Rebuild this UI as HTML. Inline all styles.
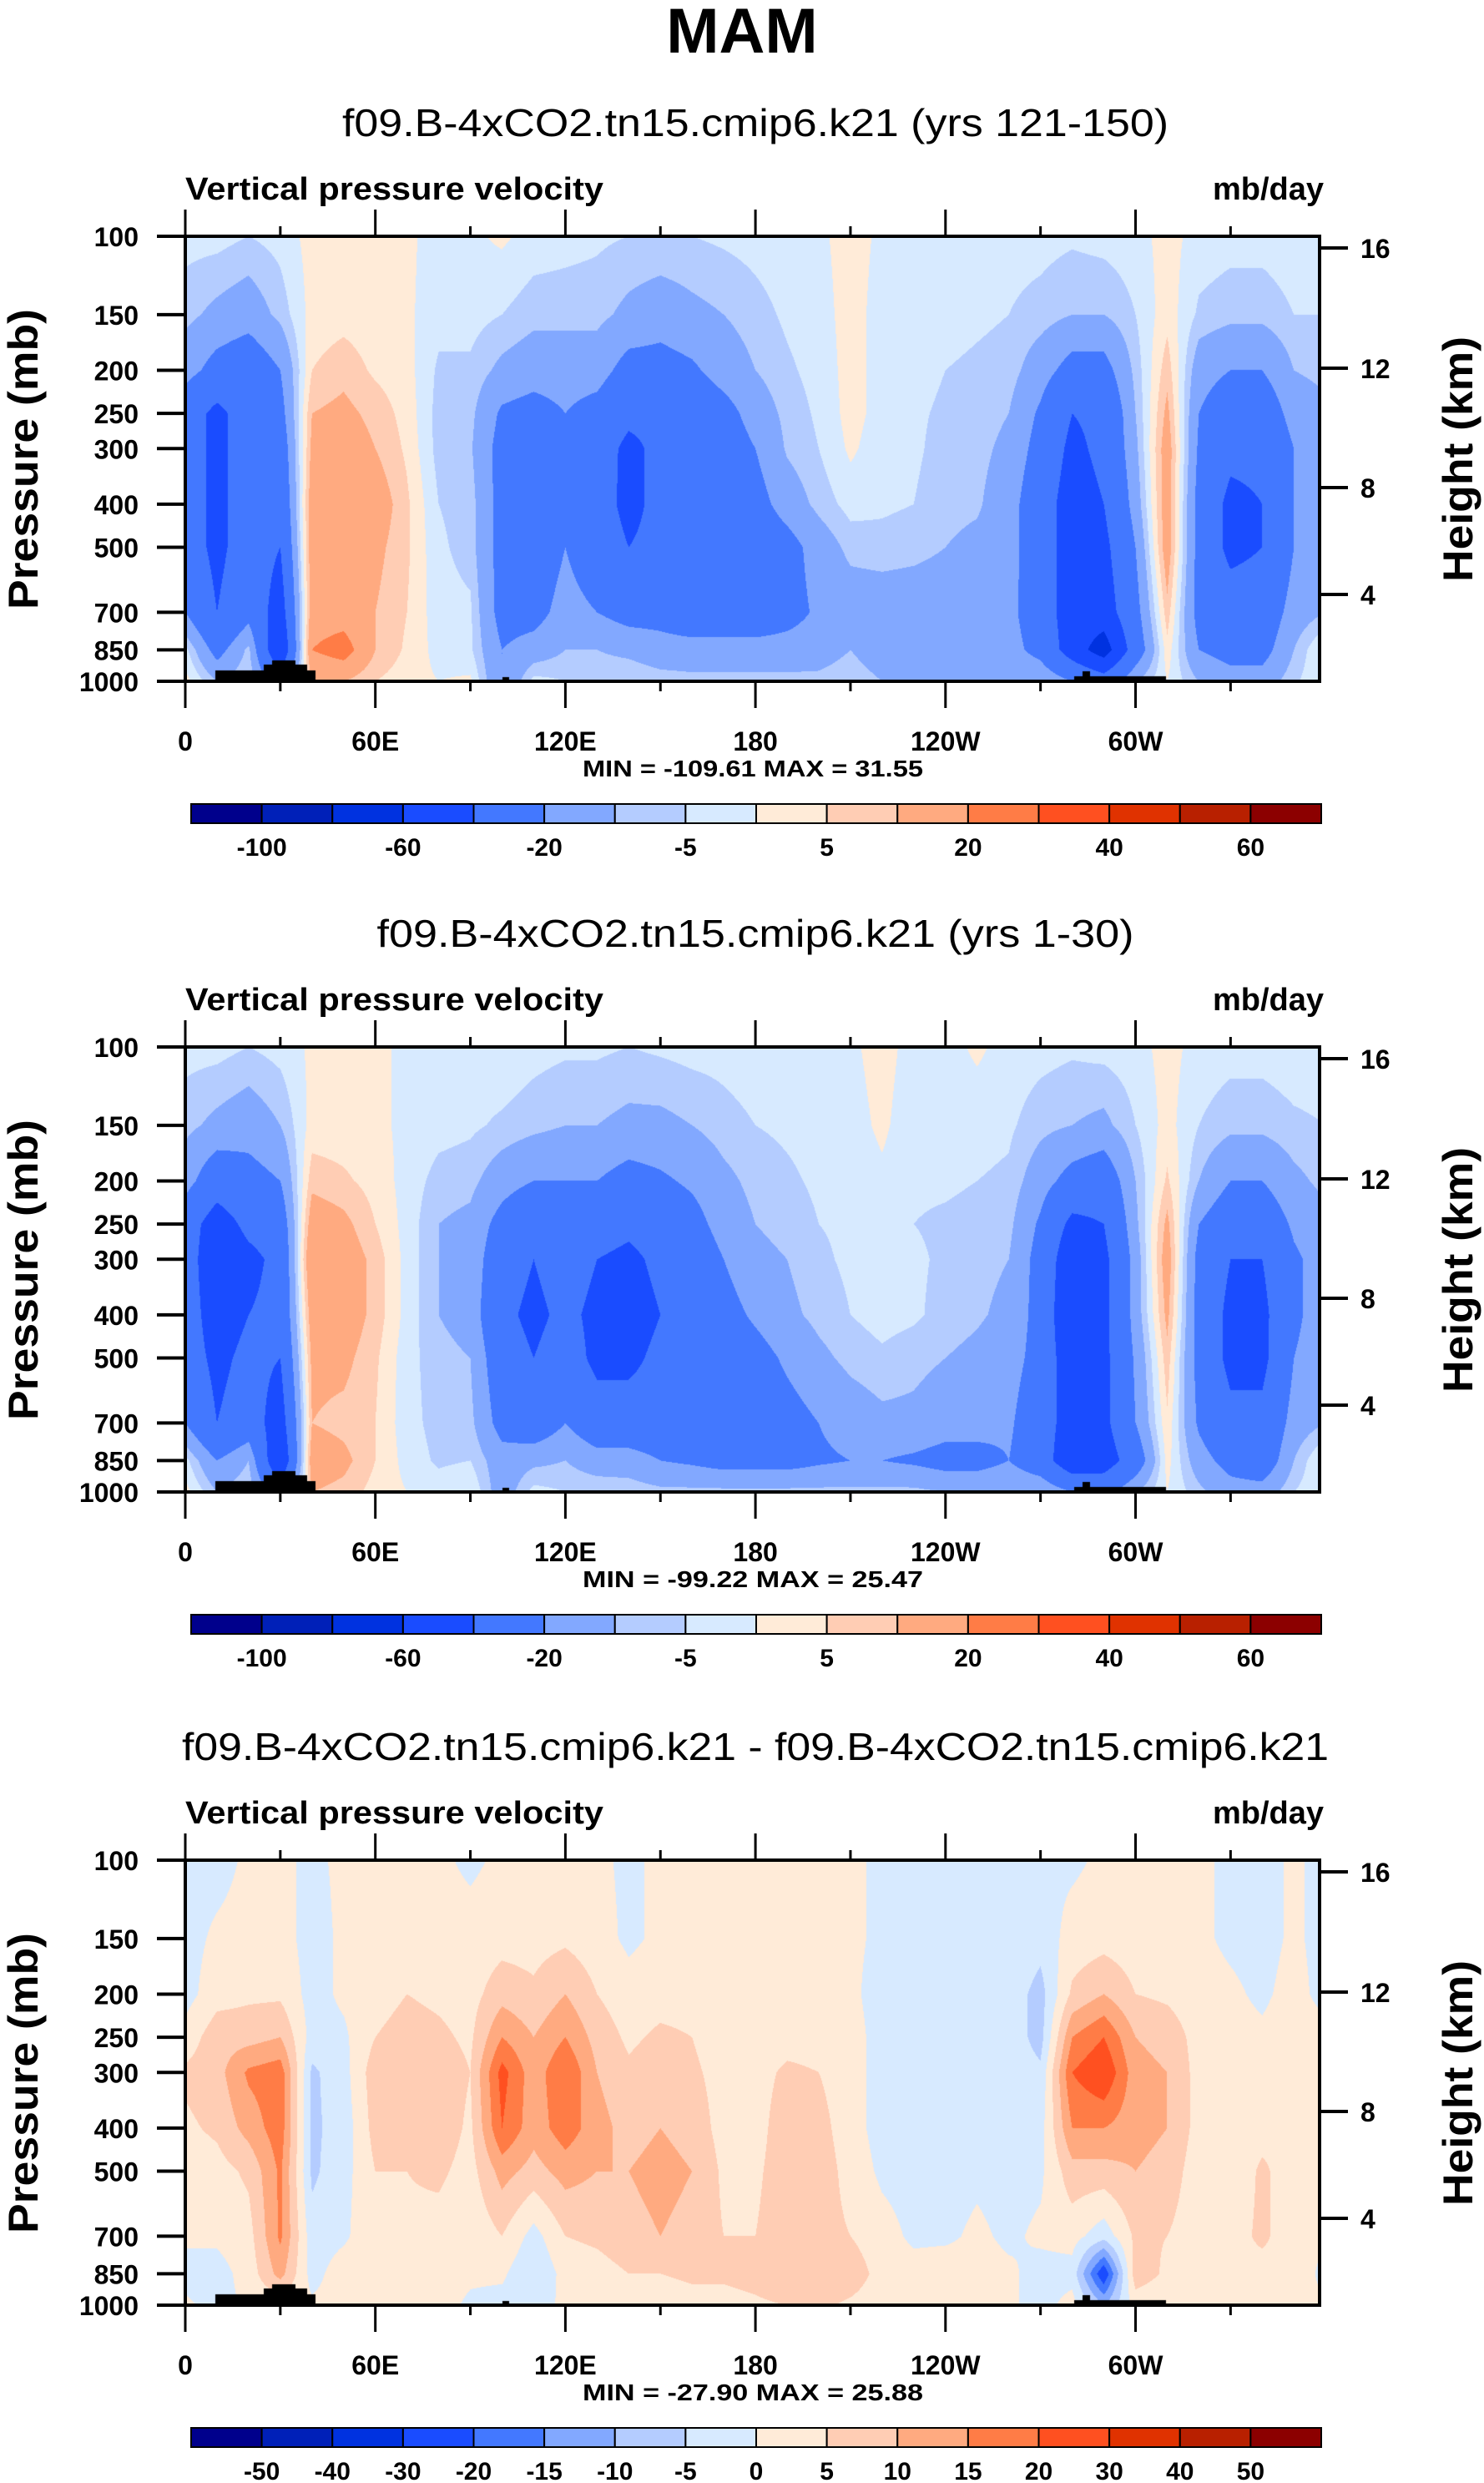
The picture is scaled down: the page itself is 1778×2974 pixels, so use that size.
<!DOCTYPE html>
<html><head><meta charset="utf-8">
<style>
html,body{margin:0;padding:0;background:#fff;}
#wrap{position:relative;width:1778px;height:2974px;overflow:hidden;background:#fff;}
canvas{position:absolute;left:222px;width:1359px;height:533px;}
svg{position:absolute;left:0;top:0;}
text{font-family:"Liberation Sans",Arial,sans-serif;}
</style></head>
<body>
<div id="wrap">
<canvas id="c0" style="top:283px"></canvas>
<canvas id="c1" style="top:1254px"></canvas>
<canvas id="c2" style="top:2228px"></canvas>
<svg id="ov" width="1778" height="2974">
<text x="889" y="63" text-anchor="middle" font-size="76" font-weight="bold">MAM</text>
</svg>
</div>
<script>
// ---------- data ----------
const lons = [0,10,20,30,40,50,60,70,80,90,100,110,120,130,140,150,160,170,180,190,200,210,220,230,240,250,260,270,280,290,300,310,320,330,340,350,360];
const levels = [100,150,200,250,300,400,500,700,850,1000];
const field1 = [
[-3,-8,-15,-30,-30,-30,-30,-20,-3,2],
[-3,-12,-25,-45,-45,-45,-45,-40,-25,-10],
[-5,-15,-30,-30,-30,-30,-30,-25,-8,-5],
[-3,-8,-20,-25,-30,-35,-40,-50,-60,-30],
[2,2,5,10,12,15,15,15,20,10],
[2,3,8,12,15,18,18,15,25,10],
[2,2,4,8,10,15,12,10,10,5],
[1,1,2,3,4,6,6,5,4,2],
[-2,-3,-6,-7,-7,-5,-4,-3,-2,0],
[-1,-3,-6,-8,-9,-7,-7,-4,-4,1],
[1,-5,-12,-22,-25,-25,-25,-25,-20,-20],
[-2,-8,-15,-25,-30,-35,-30,-25,-15,-3],
[-3,-8,-15,-20,-20,-20,-20,-15,-10,-5],
[-4,-8,-15,-25,-30,-32,-30,-20,-10,-6],
[-5,-12,-25,-35,-45,-45,-40,-25,-12,-5],
[-5,-15,-25,-35,-35,-35,-35,-25,-15,-7],
[-5,-12,-22,-30,-32,-35,-35,-30,-15,-8],
[-4,-10,-15,-25,-28,-30,-32,-30,-15,-8],
[-3,-7,-10,-15,-20,-25,-30,-30,-15,-8],
[-2,-4,-6,-8,-9,-15,-25,-25,-15,-8],
[-1,-2,-3,-4,-5,-8,-15,-18,-14,-8],
[2,2,2,2,1,-3,-8,-15,-10,-6],
[-1,-2,-2,-2,-3,-4,-7,-15,-15,-10],
[-2,-3,-3,-4,-4,-5,-8,-15,-15,-10],
[-2,-3,-5,-6,-7,-8,-10,-15,-15,-10],
[-3,-4,-6,-7,-8,-9,-12,-15,-15,-10],
[-3,-5,-7,-10,-12,-15,-15,-16,-15,-10],
[-3,-7,-15,-22,-25,-30,-30,-30,-25,-10],
[-4,-10,-25,-40,-45,-50,-50,-50,-50,-20],
[-3,-10,-25,-35,-35,-40,-45,-50,-70,-30],
[-2,-5,-8,-10,-12,-15,-20,-25,-30,-10],
[2,3,8,12,15,15,15,8,3,0],
[-2,-6,-15,-20,-22,-25,-25,-25,-20,-10],
[-3,-8,-20,-30,-35,-45,-45,-30,-25,-15],
[-3,-8,-20,-30,-35,-40,-40,-30,-25,-15],
[-2,-5,-10,-15,-20,-20,-20,-15,-10,-6],
[-2,-5,-8,-12,-15,-15,-15,-10,2,0]];
const field2 = [
[-3,-8,-15,-30,-30,-30,-30,-20,-3,2],
[-3,-12,-30,-50,-55,-50,-45,-40,-20,-10],
[-5,-15,-25,-35,-45,-40,-35,-30,-10,-5],
[-3,-10,-20,-30,-35,-35,-40,-50,-60,-30],
[1,2,8,15,20,15,12,10,15,10],
[1,2,6,12,15,15,12,8,12,8],
[1,1,3,5,8,8,6,5,5,3],
[-1,-1,-2,-2,-2,-2,-3,-3,-2,0],
[-2,-3,-7,-10,-10,-10,-8,-7,-6,-2],
[-2,-4,-8,-12,-13,-13,-10,-8,-5,0],
[-1,-6,-15,-25,-30,-35,-30,-25,-15,-15],
[-3,-8,-20,-35,-40,-45,-40,-30,-12,-3],
[-4,-10,-20,-25,-30,-35,-30,-20,-10,-5],
[-4,-10,-20,-30,-40,-45,-45,-30,-15,-5],
[-5,-12,-25,-35,-45,-50,-45,-30,-15,-6],
[-4,-12,-22,-30,-35,-40,-35,-30,-20,-8],
[-3,-10,-18,-25,-30,-30,-30,-30,-22,-8],
[-3,-7,-12,-15,-20,-25,-30,-30,-25,-8],
[-2,-5,-8,-10,-12,-18,-25,-30,-25,-8],
[-2,-4,-6,-8,-10,-12,-18,-25,-25,-8],
[-2,-3,-4,-5,-6,-8,-12,-20,-22,-8],
[-1,-2,-3,-4,-4,-5,-8,-15,-20,-8],
[2,1,-1,-2,-3,-3,-6,-12,-20,-8],
[-2,-3,-4,-5,-4,-4,-8,-12,-22,-8],
[-2,-3,-4,-6,-6,-7,-10,-15,-25,-10],
[1,-3,-5,-7,-8,-9,-12,-15,-25,-10],
[-2,-4,-6,-8,-10,-12,-15,-18,-20,-10],
[-3,-8,-15,-22,-25,-25,-25,-30,-30,-10],
[-4,-10,-25,-45,-55,-60,-55,-50,-55,-20],
[-3,-12,-30,-40,-45,-45,-45,-45,-50,-25],
[-2,-5,-10,-12,-15,-15,-18,-20,-30,-10],
[2,2,6,12,15,12,8,4,2,0],
[-2,-5,-10,-20,-25,-25,-25,-22,-15,-8],
[-3,-8,-20,-30,-40,-45,-45,-35,-25,-15],
[-3,-8,-20,-30,-40,-45,-45,-35,-30,-15],
[-2,-6,-12,-18,-22,-22,-20,-15,-10,-5],
[-2,-5,-8,-12,-15,-15,-15,-10,2,0]];
const field3 = [
[-2,-2,-2,2,6,4,2,1,-2,1],
[-2,1,3,8,8,6,3,1,-2,-2],
[1,2,4,8,16,12,6,3,2,1],
[1,2,4,10,18,18,16,16,12,1],
[-1,-2,-2,-2,-6,-6,-6,-3,-2,1],
[1,1,1,-1,-2,-3,-2,-1,3,2],
[1,2,3,5,8,7,5,4,4,2],
[1,2,5,7,10,8,5,4,5,2],
[1,2,4,6,8,8,6,3,3,2],
[-1,2,3,4,5,4,3,1,1,-1],
[1,3,8,15,22,20,12,5,1,-2],
[1,3,6,10,12,12,8,-2,-5,-2],
[1,4,10,15,20,18,12,5,2,1],
[1,2,5,8,10,12,10,6,3,1],
[-1,-1,2,4,6,8,10,8,5,2],
[1,1,3,6,8,10,12,10,5,2],
[1,2,3,5,6,8,10,8,6,3],
[1,1,2,2,3,3,4,5,6,3],
[1,1,1,2,3,3,4,5,7,4],
[1,1,2,3,6,8,8,8,10,5],
[1,1,2,3,5,7,8,7,10,6],
[1,1,1,2,2,2,3,5,8,4],
[-1,-1,-2,-2,-2,-2,-1,2,3,2],
[-1,-1,-2,-2,-2,-2,-2,-1,2,1],
[-1,-1,-2,-2,-2,-2,-2,-1,3,2],
[-1,-1,-2,-2,-2,-2,-1,1,2,1],
[-1,-1,-2,-2,-2,-2,-2,-1,1,1],
[-1,-3,-7,-7,-4,-2,-1,1,-2,-2],
[-1,2,6,15,20,15,8,2,-2,2],
[1,3,10,20,25,15,8,-3,-25,-10],
[1,2,5,10,12,12,10,6,8,2],
[1,2,4,8,10,10,8,5,4,1],
[1,1,2,3,3,3,2,2,3,1],
[-1,-1,1,2,2,1,1,3,4,2],
[-2,-2,-1,1,2,3,6,6,3,1],
[1,1,2,3,3,4,2,2,4,1],
[-2,-2,-2,2,5,4,2,1,-2,1]];
const bounds12 = [-100,-80,-60,-40,-20,-10,-5,0,5,10,20,30,40,50,60];
const bounds3 = [-50,-40,-30,-20,-15,-10,-5,0,5,10,15,20,30,40,50];
const cbLabels12 = ["-100","","-60","","-20","","-5","","5","","20","","40","","60"];
const cbLabels3 = ["-50","-40","-30","-20","-15","-10","-5","0","5","10","15","20","30","40","50"];
const palette = ["#00008c","#0020b8","#0032e0","#1a4cff","#4378ff","#82a8ff","#b4ccff","#d7eaff","#ffebd8","#ffcdb4","#ffaa80","#ff7c46","#ff5020","#e03200","#b82000","#8c0000"];
const subtitles = ["f09.B-4xCO2.tn15.cmip6.k21 (yrs 121-150)","f09.B-4xCO2.tn15.cmip6.k21 (yrs 1-30)","f09.B-4xCO2.tn15.cmip6.k21 - f09.B-4xCO2.tn15.cmip6.k21"];
const minmax = ["MIN = -109.61   MAX =  31.55","MIN = -99.22   MAX =  25.47","MIN = -27.90   MAX =  25.88"];
const pTicks = [100,150,200,250,300,400,500,700,850,1000];
const lonTickVals = [0,60,120,180,240,300];
const lonTickLabels = ["0","60E","120E","180","120W","60W"];
const hTickLabels = ["16","12","8","4"];
const hTickOffsets = [14,158,301,429];

// ---------- rendering ----------
const W=1359,H=533,PX0=222,PXD=3.795;
const llev = levels.map(p=>Math.log10(p/100));
function rgb(h){return [parseInt(h.slice(1,3),16),parseInt(h.slice(3,5),16),parseInt(h.slice(5,7),16)];}
const pal = palette.map(rgb);
function drawField(id, field, bounds){
  const cv=document.getElementById(id); cv.width=W; cv.height=H;
  const ctx=cv.getContext('2d'); const img=ctx.createImageData(W,H); const d=img.data;
  for(let y=0;y<H;y++){
    const lp=(y+0.5)/H; let k=0; while(k<llev.length-2 && lp>llev[k+1]) k++;
    let t=(lp-llev[k])/(llev[k+1]-llev[k]); t=Math.max(0,Math.min(1,t));
    for(let x=0;x<W;x++){
      const lon=Math.min((x+0.5)/PXD,359.9); let i=Math.min(Math.floor(lon/10),35); const u=(lon-lons[i])/10;
      const a=field[i][k]*(1-t)+field[i][k+1]*t, b=field[i+1][k]*(1-t)+field[i+1][k+1]*t;
      const v=a*(1-u)+b*u; let c=0; while(c<bounds.length && v>=bounds[c]) c++;
      const col=pal[c], o=(y*W+x)*4; d[o]=col[0];d[o+1]=col[1];d[o+2]=col[2];d[o+3]=255;
    }
  }
  ctx.putImageData(img,0,0);
  ctx.fillStyle='#000';
  [[36,156,13],[94,146,20],[104,132,25],[380,388,5],[1065,1175,6],[1075,1084,12]].forEach(r=>ctx.fillRect(r[0],H-r[2],r[1]-r[0],r[2]));
}
drawField('c0',field1,bounds12);
drawField('c1',field2,bounds12);
drawField('c2',field3,bounds3);

const NS='http://www.w3.org/2000/svg'; const svg=document.getElementById('ov');
function mk(tag,attrs,txt){const e=document.createElementNS(NS,tag);for(const k in attrs)e.setAttribute(k,attrs[k]);if(txt!==undefined)e.textContent=txt;svg.appendChild(e);return e;}
const offs=[0,971,1945];
for(let pi=0;pi<3;pi++){
  const oy=offs[pi], T=283+oy, B=T+H;
  let e;
  e=mk('text',{x:905,y:163+oy,'text-anchor':'middle','font-size':46,textLength:pi==2?1374:(pi==0?990:907),lengthAdjust:'spacingAndGlyphs'},subtitles[pi]);
   
  e=mk('text',{x:222,y:239+oy,'font-size':38,'font-weight':'bold',textLength:501,lengthAdjust:'spacingAndGlyphs'},'Vertical pressure velocity');
   
  e=mk('text',{x:1586,y:239+oy,'font-size':38,'font-weight':'bold','text-anchor':'end'},'mb/day');
   
  e=mk('rect',{x:PX0,y:T,width:W,height:H,fill:'none',stroke:'#000','stroke-width':4});
   
  pTicks.forEach(p=>{
    const y=T+Math.log10(p/100)*H;
    e=mk('line',{x1:188,x2:PX0,y1:y,y2:y,stroke:'#000','stroke-width':4});
     
    e=mk('text',{x:166,y:y+12,'text-anchor':'end','font-size':32,'font-weight':'bold'},String(p));
     
  });
  for(let lo=0;lo<360;lo+=30){
    const x=PX0+lo*PXD, maj=lo%60===0, L=maj?32:12;
    e=mk('line',{x1:x,x2:x,y1:T-L,y2:T,stroke:'#000','stroke-width':3});
     
    e=mk('line',{x1:x,x2:x,y1:B,y2:B+L,stroke:'#000','stroke-width':3});
     
  }
  lonTickVals.forEach((lo,j)=>{
    e=mk('text',{x:PX0+lo*PXD,y:B+83,'text-anchor':'middle','font-size':32,'font-weight':'bold'},lonTickLabels[j]);
     
  });
  hTickOffsets.forEach((o,j)=>{
    e=mk('line',{x1:PX0+W,x2:PX0+W+34,y1:T+o,y2:T+o,stroke:'#000','stroke-width':4});
     
    e=mk('text',{x:1630,y:T+o+12,'font-size':32,'font-weight':'bold'},hTickLabels[j]);
     
  });
  e=mk('text',{x:0,y:0,'font-size':50,'font-weight':'bold','text-anchor':'middle',textLength:360,lengthAdjust:'spacingAndGlyphs',transform:`translate(45,${T+267}) rotate(-90)`},'Pressure (mb)');
   
  e=mk('text',{x:0,y:0,'font-size':50,'font-weight':'bold','text-anchor':'middle',textLength:294,lengthAdjust:'spacingAndGlyphs',transform:`translate(1764,${T+267}) rotate(-90)`},'Height (km)');
   
  e=mk('text',{x:902,y:930+oy,'text-anchor':'middle','font-size':28,'font-weight':'bold',textLength:408,lengthAdjust:'spacingAndGlyphs'},minmax[pi]);
   
  const cx0=229,cw=(1583-229)/16,cy=963+oy;
  for(let c=0;c<16;c++){
    e=mk('rect',{x:cx0+c*cw,y:cy,width:cw,height:23,fill:palette[c],stroke:'#000','stroke-width':2});
     
  }
  const labs=pi==2?cbLabels3:cbLabels12;
  labs.forEach((s,j)=>{ if(!s) return;
    e=mk('text',{x:cx0+(j+1)*cw,y:1025+oy,'text-anchor':'middle','font-size':30,'font-weight':'bold'},s);
     
  });
}
</script>
</body></html>
